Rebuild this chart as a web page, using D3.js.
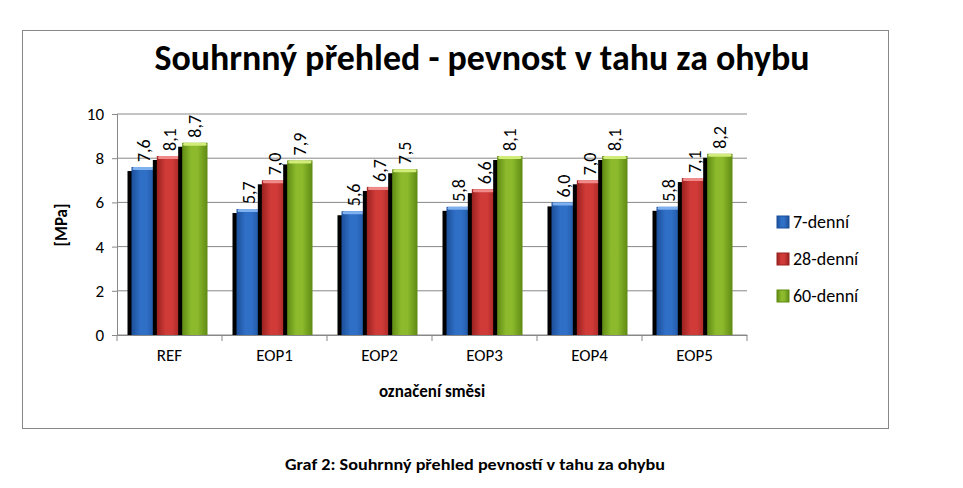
<!DOCTYPE html><html><head><meta charset="utf-8"><script src="https://cdn.jsdelivr.net/npm/d3@7"></script>
<style>body{margin:0;background:#fff}text{font-family:Calibri,Carlito,"Liberation Sans",sans-serif}</style></head><body>
<svg id="c" width="963" height="488"></svg>
<script>
const categories=["REF","EOP1","EOP2","EOP3","EOP4","EOP5"];
const seriesNames=["7-denní","28-denní","60-denní"];
const s7=[7.6,5.7,5.6,5.8,6.0,5.8];
const s28=[8.1,7.0,6.7,6.6,7.0,7.1];
const s60=[8.7,7.9,7.5,8.1,8.1,8.2];
const yTicks=[0,2,4,6,8,10];
const colors=[["#2f6fc6","#7fb0f0","#1d4f99"],["#d03b38","#f08a88","#9a2220"],["#8cba2c","#d2ec7a","#5f8a14"]];
const svg=d3.select("#c");
const defs=svg.append("defs");
colors.forEach((c,i)=>{const g=defs.append("linearGradient").attr("id","g"+i).attr("x1",0).attr("x2",1);
g.append("stop").attr("offset","0%").attr("stop-color",c[2]);
g.append("stop").attr("offset","35%").attr("stop-color",c[0]);
g.append("stop").attr("offset","60%").attr("stop-color",c[0]);
g.append("stop").attr("offset","100%").attr("stop-color",c[2]);});
svg.append("rect").attr("x",22.5).attr("y",30.5).attr("width",866).attr("height",398).attr("fill","#fff").attr("stroke","#888");
const x=d3.scaleBand().domain(categories).range([117,747]);
const y=d3.scaleLinear().domain([0,10]).range([335,114]);
const xs=d3.scaleBand().domain(seriesNames).range([0,76]);
svg.append("g").selectAll("line").data(yTicks).join("line").attr("x1",117).attr("x2",747).attr("y1",d=>y(d)).attr("y2",d=>y(d)).attr("stroke","#888");
svg.append("g").attr("transform","translate(117,0)").call(d3.axisLeft(y).tickValues(yTicks).tickSize(5).tickPadding(8))
.call(g=>{g.select(".domain").attr("stroke","#888");g.selectAll("line").attr("stroke","#888");g.selectAll("text").attr("font-size",17).attr("fill","#000");});
svg.append("g").attr("transform","translate(0,335)").call(d3.axisBottom(x).tickSize(0).tickPadding(14))
.call(g=>{g.select(".domain").attr("stroke","#888");g.selectAll("text").attr("font-size",17).attr("fill","#000");});
svg.append("g").selectAll("line").data(d3.range(7)).join("line").attr("x1",i=>117+i*x.step()).attr("x2",i=>117+i*x.step()).attr("y1",335).attr("y2",341).attr("stroke","#888");
const data=[s7,s28,s60];
data.forEach((arr,si)=>{
 const g=svg.append("g");
 arr.forEach((v,ci)=>{
  const bx=x(categories[ci])+(x.bandwidth()-76)/2+xs(seriesNames[si]);
  const bw=xs.bandwidth();
  g.append("rect").attr("x",bx-4).attr("y",y(v)+4).attr("width",bw).attr("height",335-y(v)-4).attr("fill","#000");
  g.append("rect").attr("x",bx).attr("y",y(v)).attr("width",bw).attr("height",335-y(v)).attr("fill",`url(#g${si})`);
  g.append("rect").attr("x",bx+1).attr("y",y(v)).attr("width",bw-2).attr("height",3).attr("rx",1.5).attr("fill",colors[si][1]);
  g.append("text").attr("transform",`translate(${bx+bw/2+6},${y(v)-5}) rotate(-90)`).attr("font-size",18).text(v.toFixed(1).replace(".",","));
 });
});
svg.append("text").attr("x",482).attr("y",70).attr("text-anchor","middle").attr("font-size",36).attr("font-weight","bold").attr("textLength",655).attr("lengthAdjust","spacingAndGlyphs").text("Souhrnný přehled - pevnost v tahu za ohybu");
svg.append("text").attr("transform","translate(67,225) rotate(-90)").attr("text-anchor","middle").attr("font-size",17).attr("font-weight","bold").text("[MPa]");
svg.append("text").attr("x",432).attr("y",397).attr("text-anchor","middle").attr("font-size",17).attr("font-weight","bold").text("označení směsi");
const lg=svg.append("g");
seriesNames.forEach((n,i)=>{const yy=222+i*37;
 lg.append("rect").attr("x",777).attr("y",yy-6).attr("width",12).attr("height",12).attr("fill",`url(#g${i})`).attr("stroke",colors[i][2]);
 lg.append("text").attr("x",793).attr("y",yy+6).attr("font-size",18).text(n);});
svg.append("text").attr("x",475).attr("y",470).attr("text-anchor","middle").attr("font-size",15).attr("font-weight","bold").attr("textLength",380).attr("lengthAdjust","spacingAndGlyphs").text("Graf 2: Souhrnný přehled pevností v tahu za ohybu");
</script></body></html>
